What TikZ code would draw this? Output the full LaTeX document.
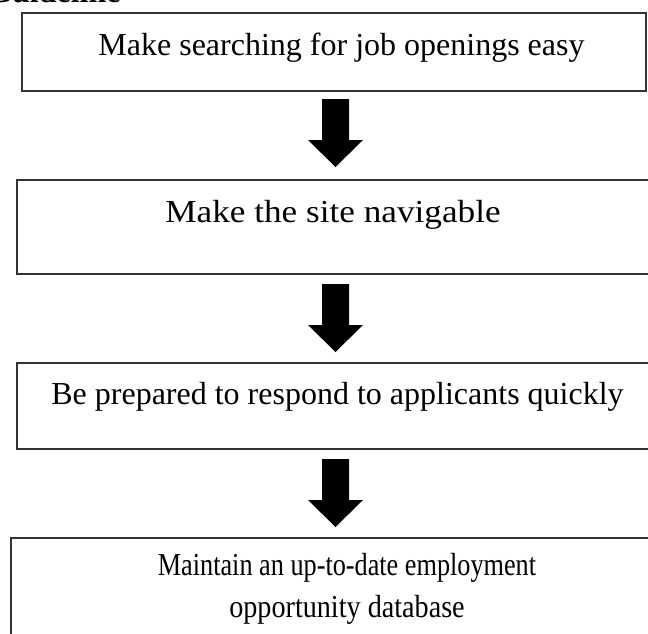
\documentclass[tikz,border=0pt]{standalone}
\usepackage{fontspec}
\setmainfont{Liberation Serif}
\begin{document}
\begin{tikzpicture}[x=1pt,y=-1pt,
  stepbox/.style={draw=black!80,line width=1.3pt},
  txt/.style={inner sep=0pt,font=\fontsize{32}{42}\selectfont,anchor=base},
  blockarrow/.style={fill=black,draw=none}]
\useasboundingbox (0,0) rectangle (648,633);
\clip (0,0) rectangle (648,633);
\node[inner sep=0pt,anchor=base west,font=\fontsize{32}{42}\selectfont\bfseries] (title) at (-13,2) {Guideline};
% boxes
\draw[stepbox] (22,13) rectangle (646,91);
\draw[stepbox] (17,180) rectangle (660,274);
\draw[stepbox] (17,363) rectangle (660,449);
\draw[stepbox] (11,538) rectangle (660,650);
% texts
\node[txt] (t1) at (341.5,55) {Make searching for job openings easy};
\node[txt] (t2) at (333,222) {\scalebox{1.1}[1]{Make the site navigable}};
\node[txt] (t3) at (337.5,404) {Be prepared to respond to applicants quickly};
\node[txt] (t4a) at (347,575) {\scalebox{0.82}[1]{Maintain an up-to-date employment}};
\node[txt] (t4b) at (347,617) {\scalebox{0.88}[1]{opportunity database}};
% block arrows
\foreach \s/\n in {99/a1,284/a2,459/a3}{
  \coordinate (\n) at (335.5,\s);
  \fill[blockarrow] ([xshift=-13.5]\n) -- ([xshift=13.5]\n) -- ([xshift=13.5,yshift=-41]\n)
    -- ([xshift=27.5,yshift=-41]\n) -- ([yshift=-68]\n) -- ([xshift=-27.5,yshift=-41]\n)
    -- ([xshift=-13.5,yshift=-41]\n) -- cycle;
}
\end{tikzpicture}
\end{document}
